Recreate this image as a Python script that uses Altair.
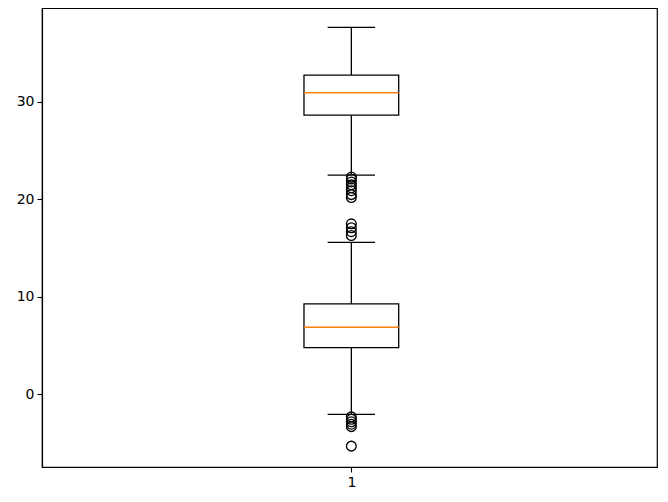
import altair as alt
import pandas as pd

# Two box summaries drawn at the same position (1)
box_names = ["upper", "lower"]
q1 = [28.65, 4.8]
median = [30.95, 6.9]
q3 = [32.75, 9.3]
whisk_lo = [22.5, -2.05]
whisk_hi = [37.65, 15.6]

outliers = [22.3, 22.1, 21.8, 21.5, 21.2, 20.9, 20.5, 20.2,
            17.5, 17.1, 16.7, 16.3,
            -2.3, -2.55, -2.8, -3.05, -3.3, -5.3]

pos = 1.0
box_half = 0.077
cap_half = 0.0385

boxes = pd.DataFrame({
    "name": box_names, "q1": q1, "med": median, "q3": q3,
    "lo": whisk_lo, "hi": whisk_hi,
    "x": [pos - box_half] * 2, "x2": [pos + box_half] * 2,
    "c": [pos - cap_half] * 2, "c2": [pos + cap_half] * 2,
    "p": [pos] * 2,
})
outl = pd.DataFrame({"v": outliers, "p": [pos] * len(outliers)})

xs = alt.Scale(domain=[0.497, 1.497], nice=False, zero=False)
ys = alt.Scale(domain=[-7.44, 39.64], nice=False, zero=False)

xax = alt.Axis(values=[1], format="d", title=None, grid=False, labelFontSize=14, tickSize=5,
               labelColor="black", tickColor="black", domainColor="black", labelPadding=3)
yax = alt.Axis(values=[0, 10, 20, 30], format="d", title=None, grid=False, labelFontSize=14, tickSize=5,
               labelColor="black", tickColor="black", domainColor="black", labelPadding=3)

base = alt.Chart(boxes)

whisk_up = base.mark_rule(color="black", strokeWidth=1.3).encode(
    x=alt.X("p:Q", scale=xs, axis=xax), y=alt.Y("q3:Q", scale=ys, axis=yax), y2="hi:Q")
whisk_dn = base.mark_rule(color="black", strokeWidth=1.3).encode(
    x=alt.X("p:Q", scale=xs), y=alt.Y("lo:Q", scale=ys), y2="q1:Q")
cap_hi = base.mark_rule(color="black", strokeWidth=1.3).encode(
    x=alt.X("c:Q", scale=xs), x2="c2:Q", y=alt.Y("hi:Q", scale=ys))
cap_lo = base.mark_rule(color="black", strokeWidth=1.3).encode(
    x=alt.X("c:Q", scale=xs), x2="c2:Q", y=alt.Y("lo:Q", scale=ys))
rect = base.mark_rect(fill="white", stroke="black", strokeWidth=1.3).encode(
    x=alt.X("x:Q", scale=xs), x2="x2:Q", y=alt.Y("q1:Q", scale=ys), y2="q3:Q")
med = base.mark_rule(color="#ff7f0e", strokeWidth=1.5).encode(
    x=alt.X("x:Q", scale=xs), x2="x2:Q", y=alt.Y("med:Q", scale=ys))
pts = alt.Chart(outl).mark_point(shape="circle", filled=False, color="black",
                                 size=95, strokeWidth=1.3, opacity=1).encode(
    x=alt.X("p:Q", scale=xs), y=alt.Y("v:Q", scale=ys))

chart = alt.layer(whisk_up, whisk_dn, cap_hi, cap_lo, rect, med, pts).properties(
    width=615, height=459,
    autosize=alt.AutoSizeParams(type="none"),
    padding={"left": 34, "top": 0, "right": 2, "bottom": 30},
).configure_view(stroke="black", strokeWidth=1.2).configure_axis(
    labelFont="DejaVu Sans", tickWidth=1.1, domainWidth=1.2)

chart.save("out.html", embed_options={"renderer": "svg", "actions": False})
